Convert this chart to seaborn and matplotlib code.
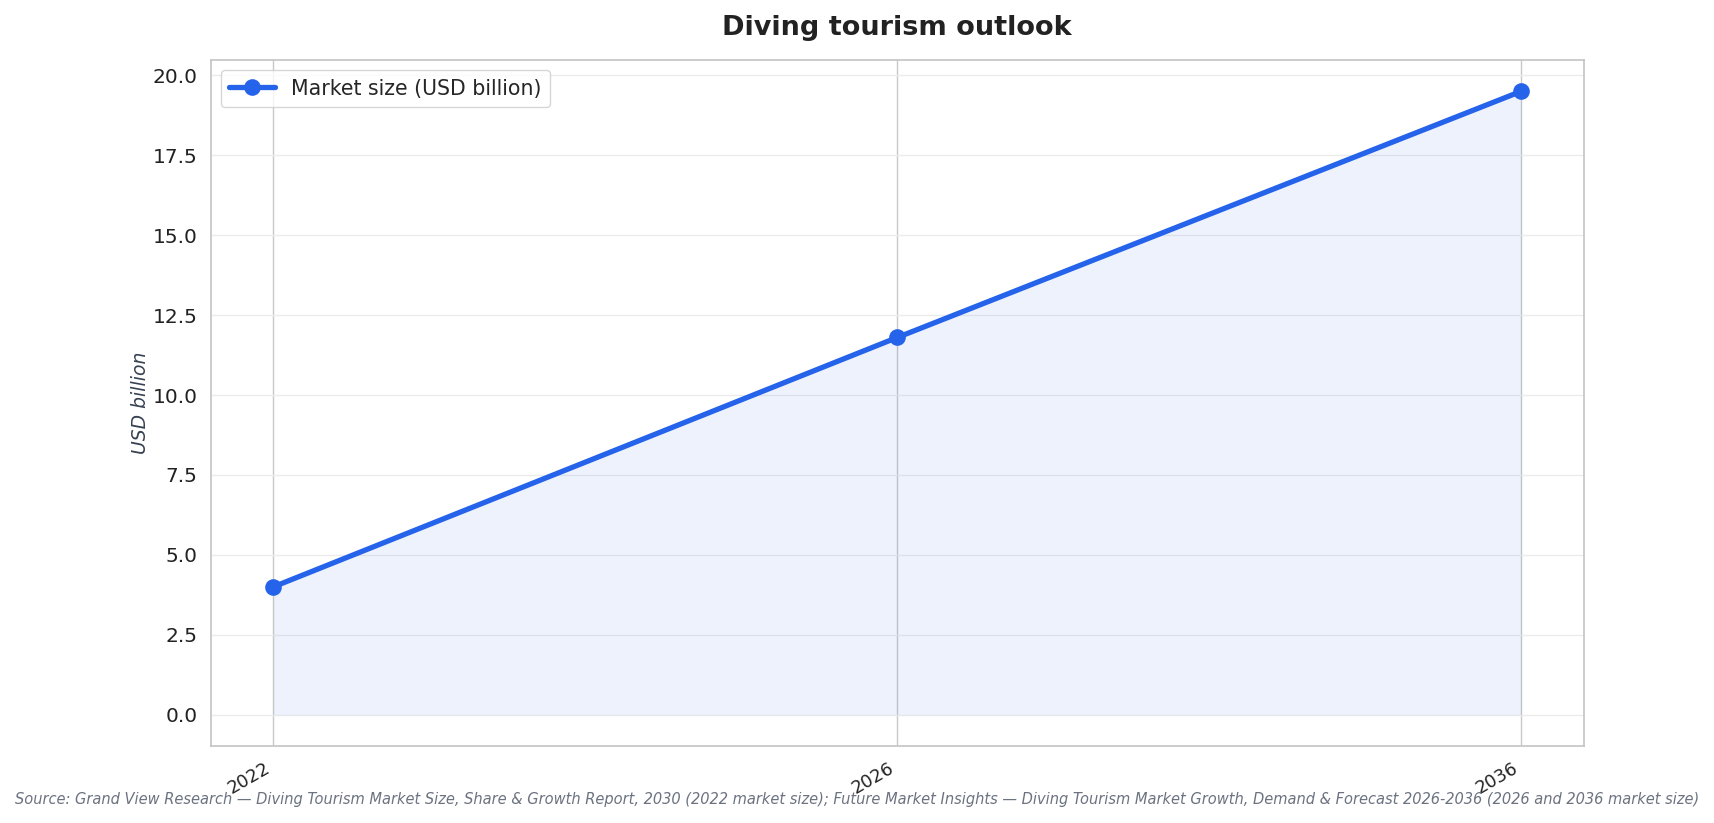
import numpy as np
import pandas as pd
import matplotlib
matplotlib.use("Agg")
import matplotlib.pyplot as plt
import seaborn as sns

years = ["2022", "2026", "2036"]
market_size = [4.0, 11.8, 19.5]
series_label = "Market size (USD billion)"
title = "Diving tourism outlook"
ylabel = "USD billion"
source = ("Source: Grand View Research \u2014 Diving Tourism Market Size, Share & Growth Report, 2030 "
          "(2022 market size); Future Market Insights \u2014 Diving Tourism Market Growth, Demand & "
          "Forecast 2026-2036 (2026 and 2036 market size)")

sns.set_theme(style="whitegrid")
plt.rcParams['font.family'] = ['DejaVu Sans']

color = "#2563EB"
pos = np.arange(len(years))
df = pd.DataFrame({"pos": pos, "value": market_size})

fig = plt.figure(figsize=(17.14, 8.23), dpi=100)
ax = fig.add_axes([0.123, 0.0936, 0.801, 0.8334])

sns.lineplot(data=df, x="pos", y="value", ax=ax, color=color, linewidth=3.8,
             marker="o", markersize=12, markeredgewidth=0, label=series_label)
ax.fill_between(df["pos"], df["value"], 0, color=color, alpha=0.08, linewidth=0)

ax.set_xticks(pos)
ax.set_xticklabels(years, rotation=30, ha="right", fontsize=13, color="#222222")
ax.tick_params(axis="y", labelsize=14.5, labelcolor="#222222")
ax.set_xlabel("")
ax.set_ylabel(ylabel, fontsize=13.5, style="italic", color="#374151", labelpad=2)
ax.set_title(title, fontsize=19.5, fontweight="bold", color="#222222", pad=18)

ax.grid(axis="y", color="#ebebeb", linewidth=1)
ax.grid(axis="x", color="#c8c8c8", linewidth=1)
for s in ax.spines.values():
    s.set_color("#c4c4c4")
    s.set_linewidth(1.2)

leg = ax.legend(loc="upper left", fontsize=14.8, frameon=True, handlelength=2.2)
leg.get_frame().set_edgecolor("#cccccc")

fig.text(0.5, 0.029, source, ha="center", va="center", fontsize=10.55, style="italic",
         color="#6B7280")

fig.savefig("out.png", dpi=100)
